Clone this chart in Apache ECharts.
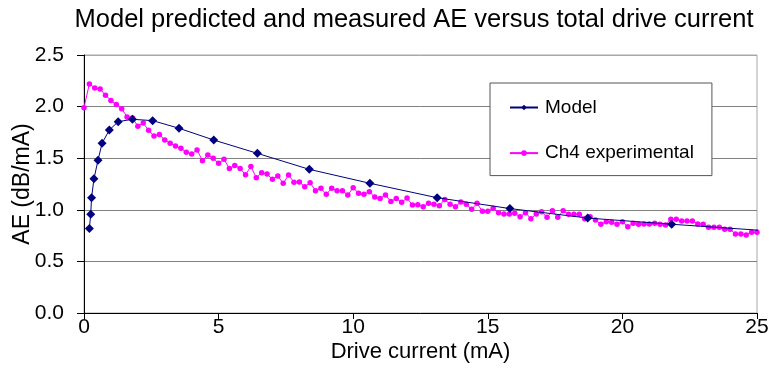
<!DOCTYPE html>
<html>
<head>
<meta charset="utf-8">
<script src="https://cdn.jsdelivr.net/npm/echarts@6/dist/echarts.min.js"></script>
<style>html,body{margin:0;padding:0;background:#fff}#c{width:769px;height:390px}</style>
</head>
<body>
<div id="c"></div>
<script>
var modelCurrent = [0.2, 0.25, 0.28, 0.37, 0.52, 0.67, 0.94, 1.27, 1.8, 2.55, 3.53, 4.82, 6.44, 8.37, 10.62, 13.12, 15.82, 18.71, 21.83, 25.18];
var modelAE = [0.82, 0.956, 1.117, 1.30, 1.48, 1.644, 1.773, 1.854, 1.877, 1.864, 1.79, 1.676, 1.547, 1.392, 1.257, 1.117, 1.012, 0.92, 0.86, 0.80];

var expCurrent = [0, 0.2, 0.4, 0.6, 0.8, 1.0, 1.2, 1.4, 1.6, 1.8, 2.0, 2.2, 2.4, 2.6, 2.8, 3.0, 3.2, 3.4, 3.6, 3.8,
  4.0, 4.2, 4.4, 4.6, 4.8, 5.0, 5.2, 5.4, 5.6, 5.8, 6.0, 6.2, 6.4, 6.6, 6.8, 7.0, 7.2, 7.4, 7.6, 7.8,
  8.0, 8.2, 8.4, 8.6, 8.8, 9.0, 9.2, 9.4, 9.6, 9.8, 10.0, 10.2, 10.4, 10.6, 10.8, 11.0, 11.2, 11.4, 11.6, 11.8,
  12.0, 12.2, 12.4, 12.6, 12.8, 13.0, 13.2, 13.4, 13.6, 13.8, 14.0, 14.2, 14.4, 14.6, 14.8, 15.0, 15.2, 15.4, 15.6, 15.8,
  16.0, 16.2, 16.4, 16.6, 16.8, 17.0, 17.2, 17.4, 17.6, 17.8, 18.0, 18.2, 18.4, 18.6, 18.8, 19.0, 19.2, 19.4, 19.6, 19.8,
  20.0, 20.2, 20.4, 20.6, 20.8, 21.0, 21.2, 21.4, 21.6, 21.8, 22.0, 22.2, 22.4, 22.6, 22.8, 23.0, 23.2, 23.4, 23.6, 23.8,
  24.0, 24.2, 24.4, 24.6, 24.8, 25.0];
var expAE = [1.99, 2.22, 2.18, 2.17, 2.11, 2.06, 2.02, 1.98, 1.90, 1.89, 1.81, 1.84, 1.77, 1.715, 1.73, 1.676, 1.644, 1.618, 1.596, 1.557,
  1.54, 1.58, 1.476, 1.53, 1.50, 1.45, 1.49, 1.40, 1.43, 1.40, 1.34, 1.42, 1.31, 1.36, 1.347, 1.295, 1.327, 1.257, 1.337, 1.266,
  1.269, 1.224, 1.263, 1.185, 1.208, 1.15, 1.208, 1.185, 1.185, 1.143, 1.214, 1.16, 1.15, 1.175, 1.124, 1.11, 1.143, 1.08, 1.11, 1.073,
  1.114, 1.047, 1.05, 1.03, 1.063, 1.053, 1.04, 1.10, 1.053, 1.03, 1.076, 1.053, 1.005, 1.063, 0.985, 0.985, 1.014, 0.972, 0.959, 0.959,
  0.966, 0.933, 0.972, 0.914, 0.959, 0.982, 0.927, 0.991, 0.927, 0.991, 0.956, 0.956, 0.956, 0.914, 0.933, 0.901, 0.859, 0.885, 0.879, 0.859,
  0.885, 0.836, 0.869, 0.859, 0.862, 0.862, 0.869, 0.859, 0.853, 0.908, 0.908, 0.891, 0.891, 0.891, 0.862, 0.859, 0.83, 0.83, 0.83, 0.811,
  0.811, 0.765, 0.765, 0.756, 0.782, 0.782];

var xTicks = [0, 5, 10, 15, 20, 25];
var yTicks = [0.0, 0.5, 1.0, 1.5, 2.0, 2.5];

function pairs(xs, ys) { return xs.map(function (x, i) { return [x, ys[i]]; }); }

var FONT = 'Liberation Sans, Arial, sans-serif';
var chart = echarts.init(document.getElementById('c'), null, { renderer: 'canvas' });
chart.setOption({
  animation: false,
  backgroundColor: '#ffffff',
  title: {
    text: 'Model predicted and measured AE versus total drive current',
    left: 409, textAlign: 'center', top: 2,
    textStyle: { fontFamily: FONT, fontSize: 25.5, fontWeight: 'normal', color: '#000' }
  },
  grid: { left: 84, right: 12, top: 55, bottom: 77, show: true, borderColor: '#a8a8a8', borderWidth: 1,
    outerBoundsMode: 'none', containLabel: false },
  legend: {
    orient: 'vertical', left: 490, top: 83,
    padding: [15, 18, 13, 19],
    itemGap: 26.6, itemWidth: 28, itemHeight: 7,
    backgroundColor: '#fff', borderColor: '#555', borderWidth: 1,
    textStyle: { fontFamily: FONT, fontSize: 19, color: '#000', padding: [0, 0, 0, 2], lineHeight: 19 },
    data: ['Model', 'Ch4 experimental']
  },
  xAxis: {
    type: 'value', min: xTicks[0], max: xTicks[xTicks.length - 1], interval: 5,
    name: 'Drive current (mA)', nameLocation: 'middle', nameGap: 28, nameMoveOverlap: false,
    nameTextStyle: { fontFamily: FONT, fontSize: 22, color: '#000' },
    axisLine: { show: true, onZero: false, lineStyle: { color: '#000', width: 1 } },
    axisTick: { show: true, length: 6, lineStyle: { color: '#000' } },
    axisLabel: { fontFamily: FONT, fontSize: 21, color: '#000', margin: 4 },
    splitLine: { show: false }
  },
  yAxis: {
    type: 'value', min: yTicks[0], max: yTicks[yTicks.length - 1], interval: 0.5,
    name: 'AE (dB/mA)', nameLocation: 'middle', nameGap: 50, nameMoveOverlap: false,
    nameTextStyle: { fontFamily: FONT, fontSize: 23, color: '#000' },
    axisLine: { show: true, lineStyle: { color: '#000', width: 1 } },
    axisTick: { show: true, length: 7, lineStyle: { color: '#000' } },
    axisLabel: { fontFamily: FONT, fontSize: 21, color: '#000', margin: 20,
      formatter: function (v) { return v.toFixed(1); } },
    splitLine: { show: true, lineStyle: { color: ['#808080', '#808080', '#808080', '#808080', '#808080', '#a8a8a8'], width: 1 } }
  },
  series: [
    {
      name: 'Model', type: 'line', data: pairs(modelCurrent, modelAE),
      symbol: 'diamond', symbolSize: 9, clip: true,
      lineStyle: { color: '#000080', width: 1 },
      itemStyle: { color: '#000080' }, z: 3
    },
    {
      name: 'Ch4 experimental', type: 'line', data: pairs(expCurrent, expAE),
      symbol: 'circle', symbolSize: 5.5, clip: true,
      lineStyle: { color: '#ff00ff', width: 1 },
      itemStyle: { color: '#ff00ff' }, z: 2
    }
  ]
});
</script>
</body>
</html>
